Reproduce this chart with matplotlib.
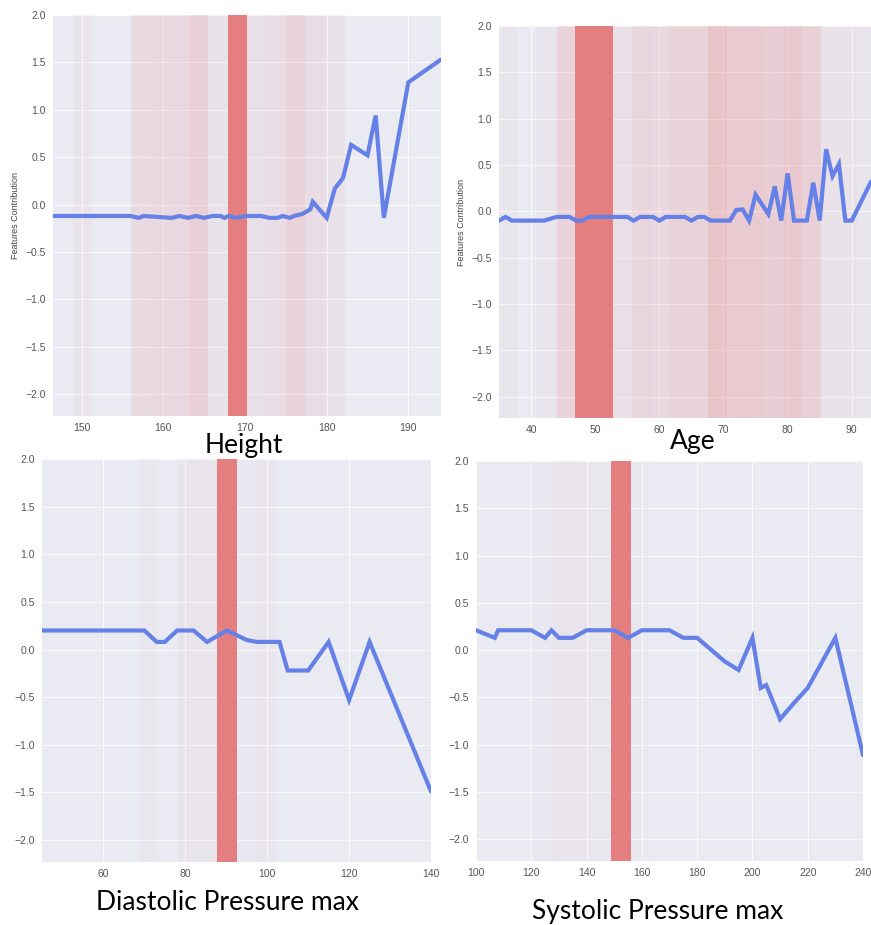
import matplotlib
matplotlib.use("Agg")
import matplotlib.pyplot as plt
import seaborn as sns

sns.set_style("darkgrid")
plt.rcParams['font.family'] = ['Liberation Sans', 'DejaVu Sans']

# ---------------- data ----------------
height_x = [146.5, 156, 157, 157.6, 161, 162, 163, 164, 165, 166, 167, 167.5, 168, 169, 170, 172, 173, 174,
            174.6, 175.5, 176, 177, 178, 178.3, 180, 181, 182, 183, 185, 186, 187, 190, 194]
height_y = [-0.12, -0.12, -0.14, -0.12, -0.14, -0.12, -0.14, -0.12, -0.14, -0.12, -0.12, -0.14, -0.12, -0.14,
            -0.12, -0.12, -0.14, -0.14, -0.12, -0.14, -0.12, -0.10, -0.05, 0.03, -0.14, 0.17, 0.28, 0.63, 0.52,
            0.94, -0.14, 1.29, 1.53]
height_edges = [148.9, 151.3, 156.0, 158.4, 160.8, 163.1, 165.5, 170.3, 172.6, 175.0, 177.4, 179.7, 182.2]
height_alpha = [0.05, 0.0, 0.14, 0.16, 0.16, 0.24, 0.07, 0.09, 0.12, 0.21, 0.12, 0.07]
height_current = (167.9, 170.3)

age_x = [35, 36, 37, 42, 44, 46, 47, 48, 49, 55, 56, 57, 59, 60, 61, 64, 65, 66, 67, 68, 71, 72, 73, 74, 75,
         77, 78, 79, 80, 81, 83, 84, 85, 86, 87, 88, 89, 90, 93]
age_y = [-0.10, -0.06, -0.10, -0.10, -0.06, -0.06, -0.10, -0.10, -0.06, -0.06, -0.10, -0.06, -0.06, -0.10,
         -0.06, -0.06, -0.10, -0.06, -0.06, -0.10, -0.10, 0.015, 0.02, -0.10, 0.18, -0.03, 0.27, -0.10, 0.41,
         -0.10, -0.10, 0.31, -0.10, 0.67, 0.38, 0.51, -0.10, -0.10, 0.32]
age_edges = [35.0, 38.0, 40.9, 44.0, 46.9, 52.8, 55.8, 58.7, 61.7, 64.6, 67.6, 70.5, 73.5, 76.4, 79.3, 82.2,
             85.2, 88.1, 91.0, 93.0]
age_alpha = [0.04, 0.0, 0.04, 0.2, 0.0, 0.09, 0.18, 0.16, 0.21, 0.21, 0.36, 0.29, 0.29, 0.26, 0.31, 0.24,
             0.07, 0.07, 0.04]
age_current = (46.9, 52.8)

dia_x = [45, 70, 73, 75, 78, 82, 85.3, 90.2, 95, 97.5, 103, 105, 110, 115, 120, 125, 140]
dia_y = [0.20, 0.20, 0.08, 0.08, 0.20, 0.20, 0.08, 0.20, 0.10, 0.08, 0.08, -0.22, -0.22, 0.08, -0.53, 0.08,
         -1.49]
dia_edges = [68.9, 73.4, 78.2, 82.9, 87.7, 92.5, 97.1, 101.9]
dia_alpha = [0.03, 0.0, 0.05, 0.04, 0.0, 0.02, 0.04]
dia_current = (87.8, 92.5)

sys_x = [100, 106.8, 108, 120, 125, 127.3, 130, 135, 140, 150, 155, 160, 170, 175, 180, 190, 195, 200, 203,
         205, 210, 215, 220, 230, 240]
sys_y = [0.21, 0.13, 0.21, 0.21, 0.13, 0.21, 0.13, 0.13, 0.21, 0.21, 0.13, 0.21, 0.21, 0.13, 0.13, -0.12,
         -0.21, 0.13, -0.40, -0.37, -0.73, -0.56, -0.40, 0.13, -1.11]
sys_edges = [120.0, 128.0, 140.0, 149.0, 156.0, 163.0]
sys_alpha = [0.02, 0.05, 0.03, 0.0, 0.02]
sys_current = (149.0, 156.0)

titles = ["Height", "Age", "Diastolic Pressure max", "Systolic Pressure max"]
ylabel = "Features Contribution"

# ---------------- layout ----------------
W, H = 871, 925
fig = plt.figure(figsize=(W / 100, H / 100), dpi=100)
fig.patch.set_facecolor('white')

def box(l, t, r, b):
    return [l / W, 1 - b / H, (r - l) / W, (b - t) / H]

panels = [
    dict(rect=box(53, 15, 441, 416), x=height_x, y=height_y, edges=height_edges, alpha=height_alpha,
         cur=height_current, xlim=(146.5, 194), xticks=[150, 160, 170, 180, 190], ylab=True,
         title_xy=(244, 445)),
    dict(rect=box(499, 26, 871, 418), x=age_x, y=age_y, edges=age_edges, alpha=age_alpha,
         cur=age_current, xlim=(35, 93), xticks=[40, 50, 60, 70, 80, 90], ylab=True,
         title_xy=(693, 441)),
    dict(rect=box(42, 459, 431, 862), x=dia_x, y=dia_y, edges=dia_edges, alpha=dia_alpha,
         cur=dia_current, xlim=(45, 140), xticks=[60, 80, 100, 120, 140], ylab=False,
         title_xy=(227, 902)),
    dict(rect=box(476, 461, 863, 861), x=sys_x, y=sys_y, edges=sys_edges, alpha=sys_alpha,
         cur=sys_current, xlim=(100, 240), xticks=[100, 120, 140, 160, 180, 200, 220, 240], ylab=False,
         title_xy=(658, 911)),
]

band_color = '#E57F7F'
line_color = '#6580E6'

for p, title in zip(panels, titles):
    ax = fig.add_axes(p['rect'])
    ax.set_facecolor('#EAEAF2')
    for i, a in enumerate(p['alpha']):
        if a > 0:
            ax.axvspan(p['edges'][i], p['edges'][i + 1], color=band_color, alpha=a, lw=0, zorder=1)
    ax.axvspan(p['cur'][0], p['cur'][1], color=band_color, alpha=1.0, lw=0, zorder=2)
    ax.plot(p['x'], p['y'], color=line_color, lw=3.0, zorder=3, solid_joinstyle='miter')
    ax.set_xlim(*p['xlim'])
    ax.set_ylim(-2.23, 2.0)
    ax.set_xticks(p['xticks'])
    ax.set_yticks([-2.0, -1.5, -1.0, -0.5, 0.0, 0.5, 1.0, 1.5, 2.0])
    ax.set_yticklabels(['−2.0', '−1.5', '−1.0', '−0.5', '0.0', '0.5', '1.0', '1.5', '2.0'])
    ax.tick_params(axis='both', labelsize=7.5, colors='#555555', length=0, pad=5)
    ax.grid(True, color='white', lw=0.7, alpha=0.8)
    for s in ax.spines.values():
        s.set_visible(False)
    if p['ylab']:
        ax.set_ylabel(ylabel, fontsize=6.5, color='#444444', labelpad=4)
    tx, ty = p['title_xy']
    fig.text(tx / W, 1 - ty / H, title, ha='center', va='center', fontsize=19,
             family=['Lato', 'DejaVu Sans'], color='black')

fig.savefig('out.png', dpi=100, facecolor='white')
